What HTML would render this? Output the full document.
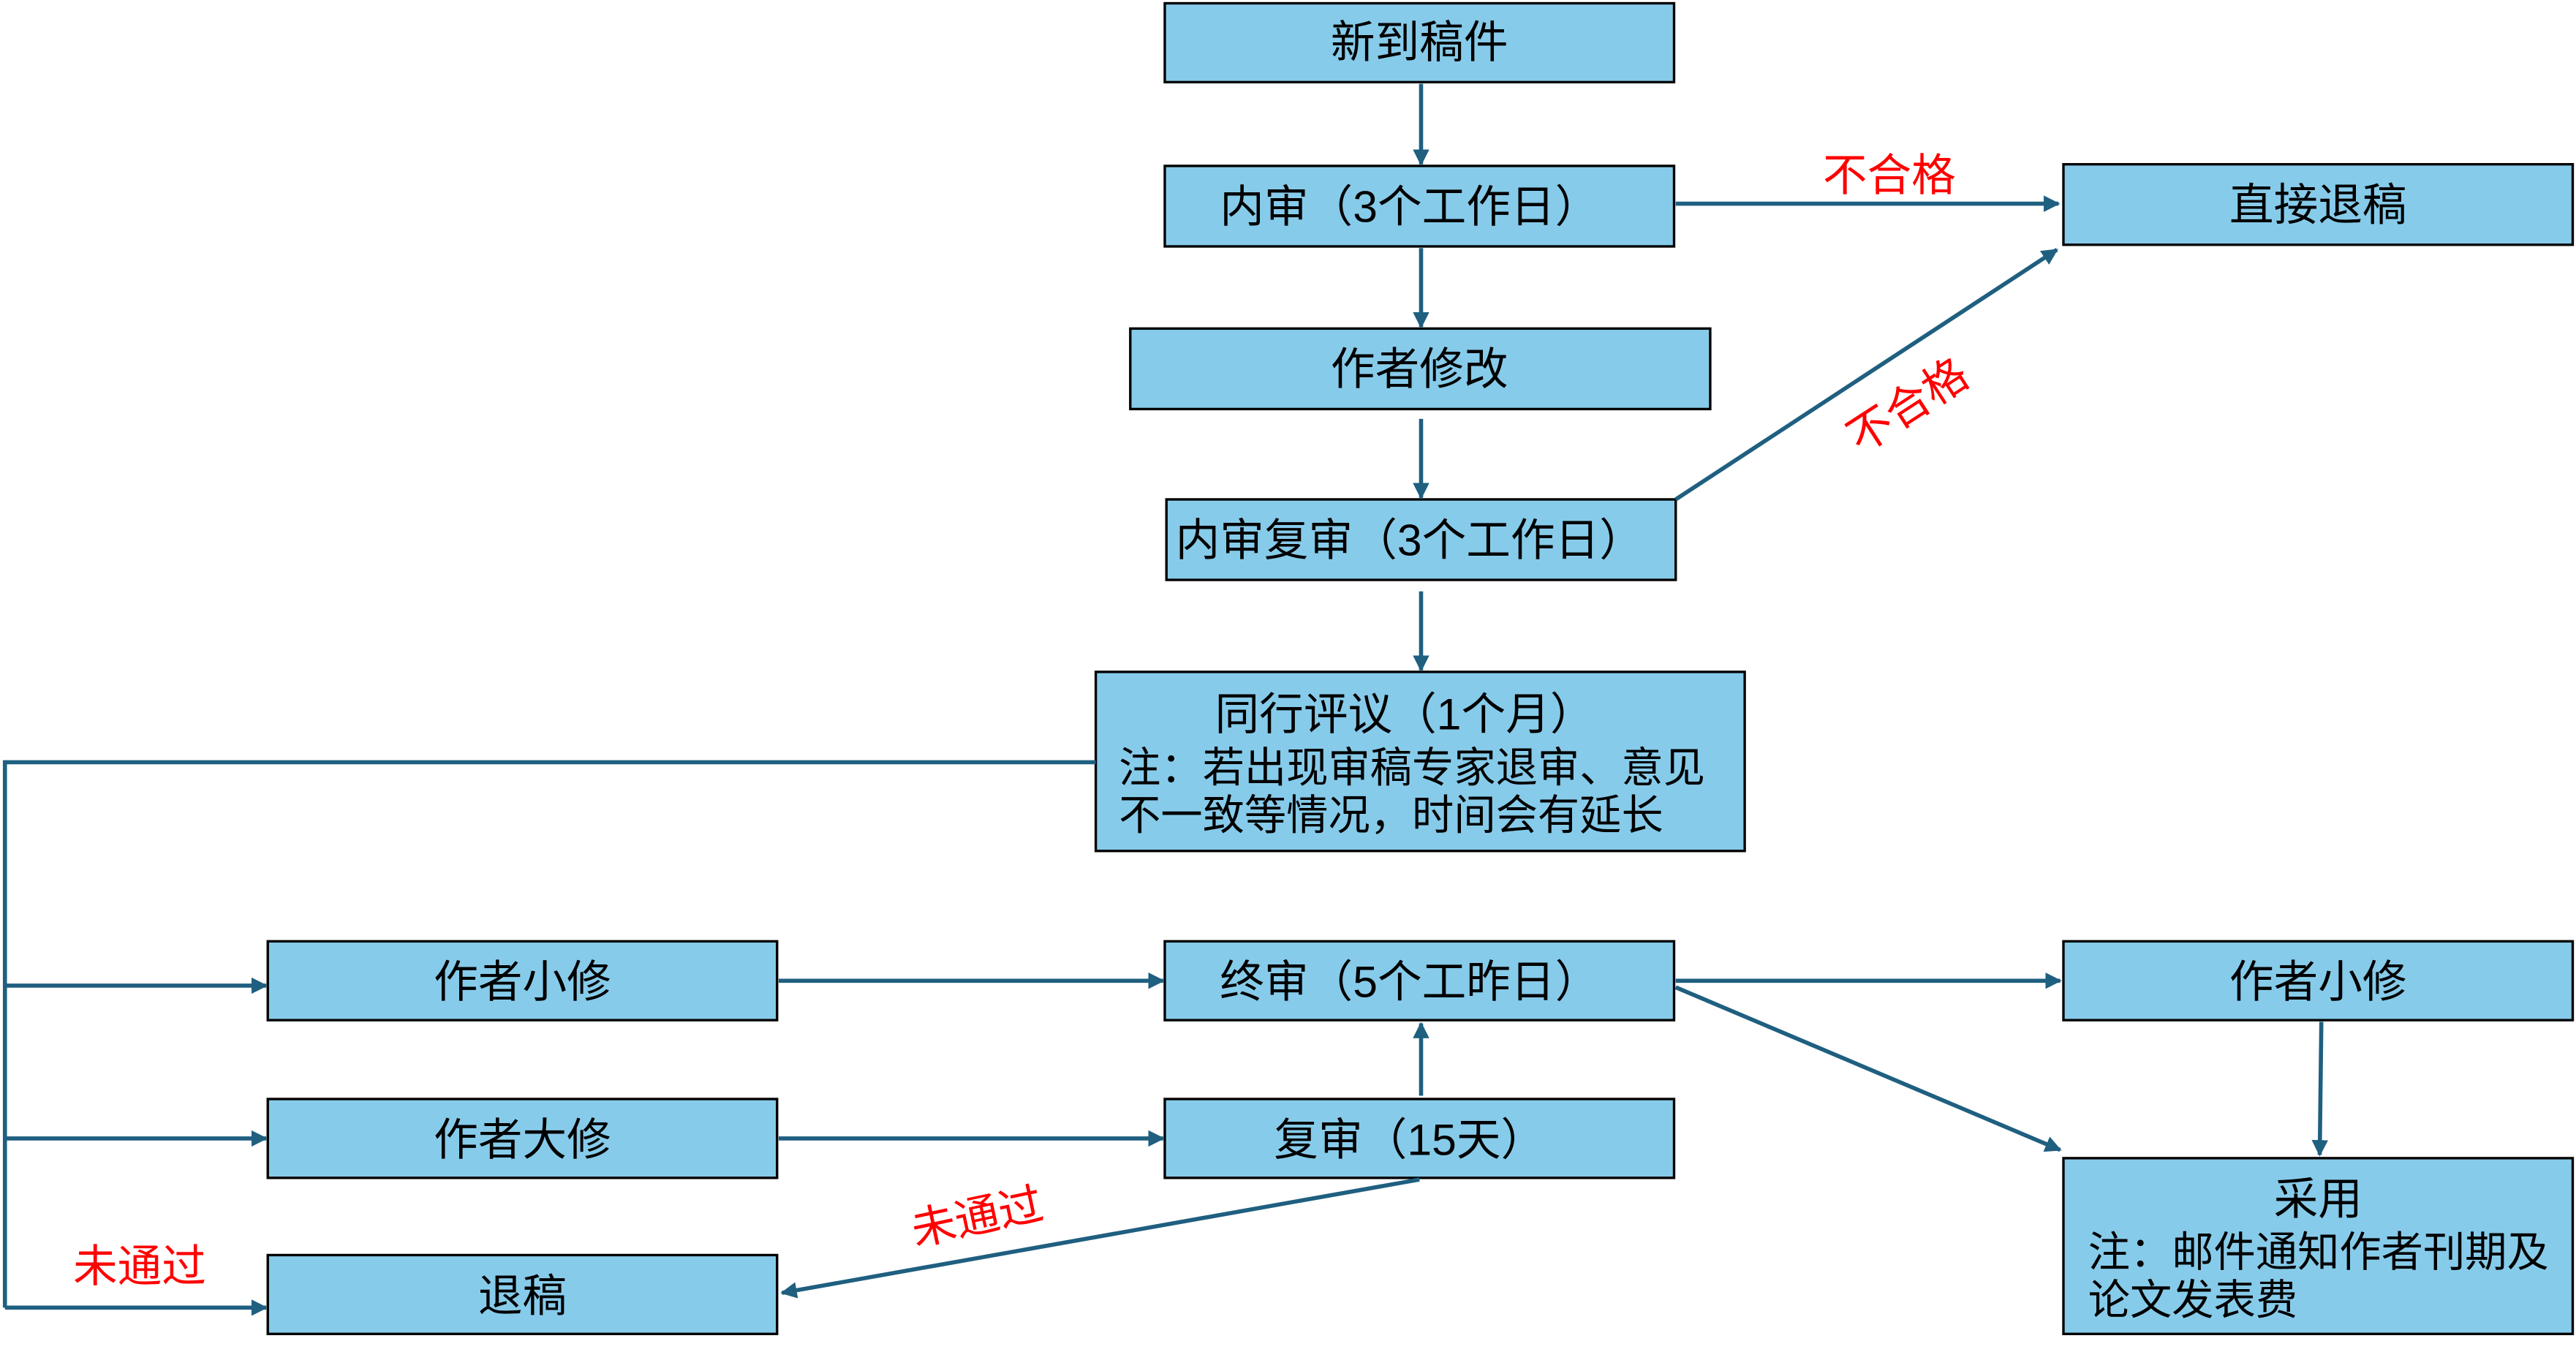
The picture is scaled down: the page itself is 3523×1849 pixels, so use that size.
<!DOCTYPE html>
<html><head><meta charset="utf-8"><style>
html,body{margin:0;padding:0;background:#fff;}
svg{display:block;}
text{font-family:"Liberation Sans","Noto Sans CJK SC",sans-serif;}
</style></head><body>
<svg width="3523" height="1849" viewBox="0 0 1568 823" preserveAspectRatio="none" xmlns="http://www.w3.org/2000/svg">
<defs>
<marker id="a" viewBox="0 0 10 10" refX="9" refY="5" markerWidth="4" markerHeight="4" orient="auto" markerUnits="strokeWidth">
<path d="M0,0 L10,5 L0,10 z" fill="#1f5f80"/></marker>
</defs>
<g fill="#87cbea" stroke="#000" stroke-width="1.5">
<rect x="709" y="2" width="310" height="48"/>
<rect x="709" y="101" width="310" height="49"/>
<rect x="1256" y="100" width="310" height="49"/>
<rect x="688" y="200" width="353" height="49"/>
<rect x="710" y="304" width="310" height="49"/>
<rect x="667" y="409" width="395" height="109"/>
<rect x="163" y="573" width="310" height="48"/>
<rect x="709" y="573" width="310" height="48"/>
<rect x="1256" y="573" width="310" height="48"/>
<rect x="163" y="669" width="310" height="48"/>
<rect x="709" y="669" width="310" height="48"/>
<rect x="163" y="764" width="310" height="48"/>
<rect x="1256" y="705" width="310" height="107"/>
</g>
<g stroke="#1f5f80" stroke-width="2.5" fill="none">
<line x1="865" y1="51" x2="865" y2="100" marker-end="url(#a)"/>
<line x1="865" y1="151" x2="865" y2="199" marker-end="url(#a)"/>
<line x1="865" y1="255" x2="865" y2="303" marker-end="url(#a)"/>
<line x1="865" y1="360" x2="865" y2="408" marker-end="url(#a)"/>
<line x1="1020" y1="124" x2="1253" y2="124" marker-end="url(#a)"/>
<line x1="1020" y1="304" x2="1252" y2="152" marker-end="url(#a)"/>
<polyline points="667,464 3,464 3,796"/>
<line x1="3" y1="600" x2="162" y2="600" marker-end="url(#a)"/>
<line x1="3" y1="693" x2="162" y2="693" marker-end="url(#a)"/>
<line x1="3" y1="796" x2="162" y2="796" marker-end="url(#a)"/>
<line x1="474" y1="597" x2="708" y2="597" marker-end="url(#a)"/>
<line x1="474" y1="693" x2="708" y2="693" marker-end="url(#a)"/>
<line x1="865" y1="667" x2="865" y2="623" marker-end="url(#a)"/>
<line x1="1020" y1="597" x2="1254" y2="597" marker-end="url(#a)"/>
<line x1="1020" y1="601" x2="1254" y2="700" marker-end="url(#a)"/>
<line x1="1413" y1="622" x2="1412" y2="703" marker-end="url(#a)"/>
<line x1="864" y1="718" x2="476" y2="787" marker-end="url(#a)"/>
</g>
<g font-size="27" text-anchor="middle" fill="#000">
<text x="864" y="35">新到稿件</text>
<text x="858" y="135">内审（3个工作日）</text>
<text x="1411" y="134">直接退稿</text>
<text x="864" y="234">作者修改</text>
<text x="858" y="338">内审复审（3个工作日）</text>
<text x="855" y="444">同行评议（1个月）</text>
<text x="318" y="607">作者小修</text>
<text x="858" y="607">终审（5个工昨日）</text>
<text x="1411" y="607">作者小修</text>
<text x="318" y="703">作者大修</text>
<text x="858" y="703">复审（15天）</text>
<text x="318" y="798">退稿</text>
<text x="1411" y="739">采用</text>
</g>
<g font-size="25.5" fill="#000">
<text x="681" y="476">注：若出现审稿专家退审、意见</text>
<text x="681" y="505">不一致等情况，时间会有延长</text>
<text x="1271" y="771">注：邮件通知作者刊期及</text>
<text x="1271" y="800">论文发表费</text>
</g>
<g font-size="27" fill="#ff0000" text-anchor="middle">
<text x="1150" y="116">不合格</text>
<text x="1162" y="256" transform="rotate(-33 1162 248)">不合格</text>
<text x="595" y="750" transform="rotate(-12 595 742)">未通过</text>
<text x="85" y="780">未通过</text>
</g>
</svg>
</body></html>
